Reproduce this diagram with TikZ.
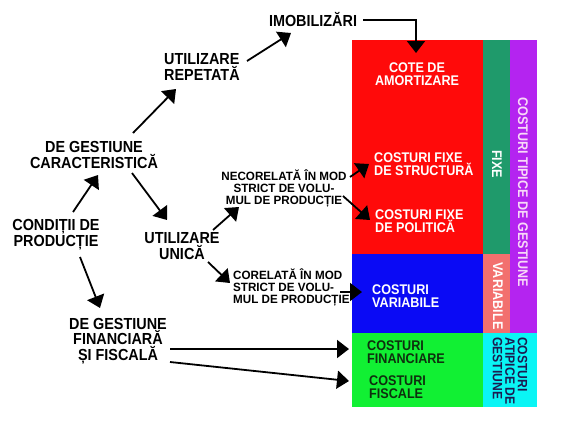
\documentclass[tikz,border=0pt]{standalone}
\usepackage{fontspec}
\newfontfamily\lab[FakeStretch=0.9]{Liberation Sans}
\newfontfamily\labs[FakeStretch=0.97]{Liberation Sans}
\usetikzlibrary{arrows.meta,calc}
\definecolor{cred}{HTML}{FF0A0A}
\definecolor{cteal}{HTML}{1F9A6B}
\definecolor{cpurple}{HTML}{B424F0}
\definecolor{cblue}{HTML}{0A0AF5}
\definecolor{csalmon}{HTML}{F2706E}
\definecolor{cgreen}{HTML}{11F033}
\definecolor{ccyan}{HTML}{0AF5F5}
\definecolor{cnavy}{HTML}{1C1C50}
\definecolor{cdkgreen}{HTML}{0E300E}
\definecolor{clpink}{HTML}{F8D8F8}
\begin{document}
\begin{tikzpicture}[x=1pt,y=-1pt,
  lbig/.style={font=\lab\bfseries\fontsize{16}{14}\selectfont,align=center,inner sep=0},
  lsmall/.style={font=\labs\bfseries\fontsize{12}{12}\selectfont,align=center,inner sep=0},
  lbox/.style={font=\lab\bfseries\fontsize{14}{12.5}\selectfont,align=left,inner sep=0,text=white},
  lrot/.style={lbox,rotate=-90},
  arr/.style={line width=1.8pt,-{Triangle[length=12pt,width=18pt]}}]
\useasboundingbox (0,0) rectangle (572,429);
\fill[white] (0,0) rectangle (572,429);
% coloured blocks
\fill[cred] (352,40) rectangle (483,254);
\fill[cteal] (483,40) rectangle (510,254);
\fill[cpurple] (510,40) rectangle (537,333);
\fill[cblue] (352,254) rectangle (483,333);
\fill[csalmon] (483,254) rectangle (510,333);
\fill[cgreen] (352,333) rectangle (483,407);
\fill[ccyan] (483,333) rectangle (537,407);
% block labels
\node[lbox,align=center] (cote) at (417,74) {COTE DE\\AMORTIZARE};
\node[lbox,anchor=west] (struct) at (374,164) {COSTURI FIXE\\DE STRUCTURĂ};
\node[lbox,anchor=west] (polit) at (375,221) {COSTURI FIXE\\DE POLITICĂ};
\node[lbox,anchor=west] (var) at (372,296) {COSTURI\\VARIABILE};
\node[lbox,anchor=west,text=cdkgreen] (cfin) at (367,352) {COSTURI\\FINANCIARE};
\node[lbox,anchor=west,text=cdkgreen] (cfis) at (369,387) {COSTURI\\FISCALE};
\node[lrot] (fixe) at (497,164) {FIXE};
\node[lrot,text=clpink] (tipice) at (523,192) {COSTURI TIPICE DE GESTIUNE};
\node[lrot,text=white] (variab) at (498,296) {VARIABILE};
\node[lrot,text=cnavy,font=\lab\bfseries\fontsize{13.5}{12.5}\selectfont,anchor=west] (atipice) at (510,337) {COSTURI\\ATIPICE DE\\GESTIUNE};
% left labels
\node[lbig] (imob) at (313,20) {IMOBILIZĂRI};
\node[lbig,anchor=west,align=left] (rep) at (164,67) {UTILIZARE\\REPETATĂ};
\node[lbig] (car) at (94,155) {DE GESTIUNE\\CARACTERISTICĂ};
\node[lbig] (cond) at (56,235) {CONDIȚII DE\\PRODUCȚIE};
\node[lbig] (unica) at (182,246) {UTILIZARE\\UNICĂ};
\node[lsmall] (necor) at (284,188) {NECORELATĂ ÎN MOD\\STRICT DE VOLU-\\MUL DE PRODUCȚIE};
\node[lsmall,anchor=west,align=left] (cor) at (233,287) {CORELATĂ ÎN MOD\\STRICT DE VOLU-\\MUL DE PRODUCȚIE};
\node[lbig] (fin) at (118,341) {DE GESTIUNE\\FINANCIARĂ\\ȘI FISCALĂ};
% connectors
\draw[arr] ($(imob)+(50,0)$) -| ($(cote)+(-1,-21)$);
\draw[arr] ($(rep.west)+(83,-6)$) -- ($(imob)+(-22,13)$);
\draw[arr] ($(car)+(39,-22)$) -- ($(rep.west)+(12,22)$);
\draw[arr] ($(cond)+(17,-23)$) -- ($(car)+(4,20)$);
\draw[arr] ($(car)+(38,18)$) -- ($(unica)+(-15,-26)$);
\draw[arr] ($(unica)+(31,-16)$) -- ($(necor)+(-45,19)$);
\draw[arr] ($(unica)+(26,16)$) -- ($(cor.west)+(-3,-4)$);
\draw[arr] ($(necor)+(66,-11)$) -- ($(struct.west)+(-5,0)$);
\draw[arr] ($(necor)+(59,8)$) -- ($(polit.west)+(-5,-1)$);
\draw[arr] ($(cor.west)+(107,5)$) -- ($(var.west)+(-10,-4)$);
\draw[arr] ($(fin)+(52,8)$) -- ($(cfin.west)+(-18,-3)$);
\draw[arr] ($(fin)+(52,21)$) -- ($(cfis.west)+(-20,-6)$);
\draw[arr] ($(cond)+(24,22)$) -- ($(fin)+(-18,-33)$);
\end{tikzpicture}
\end{document}
